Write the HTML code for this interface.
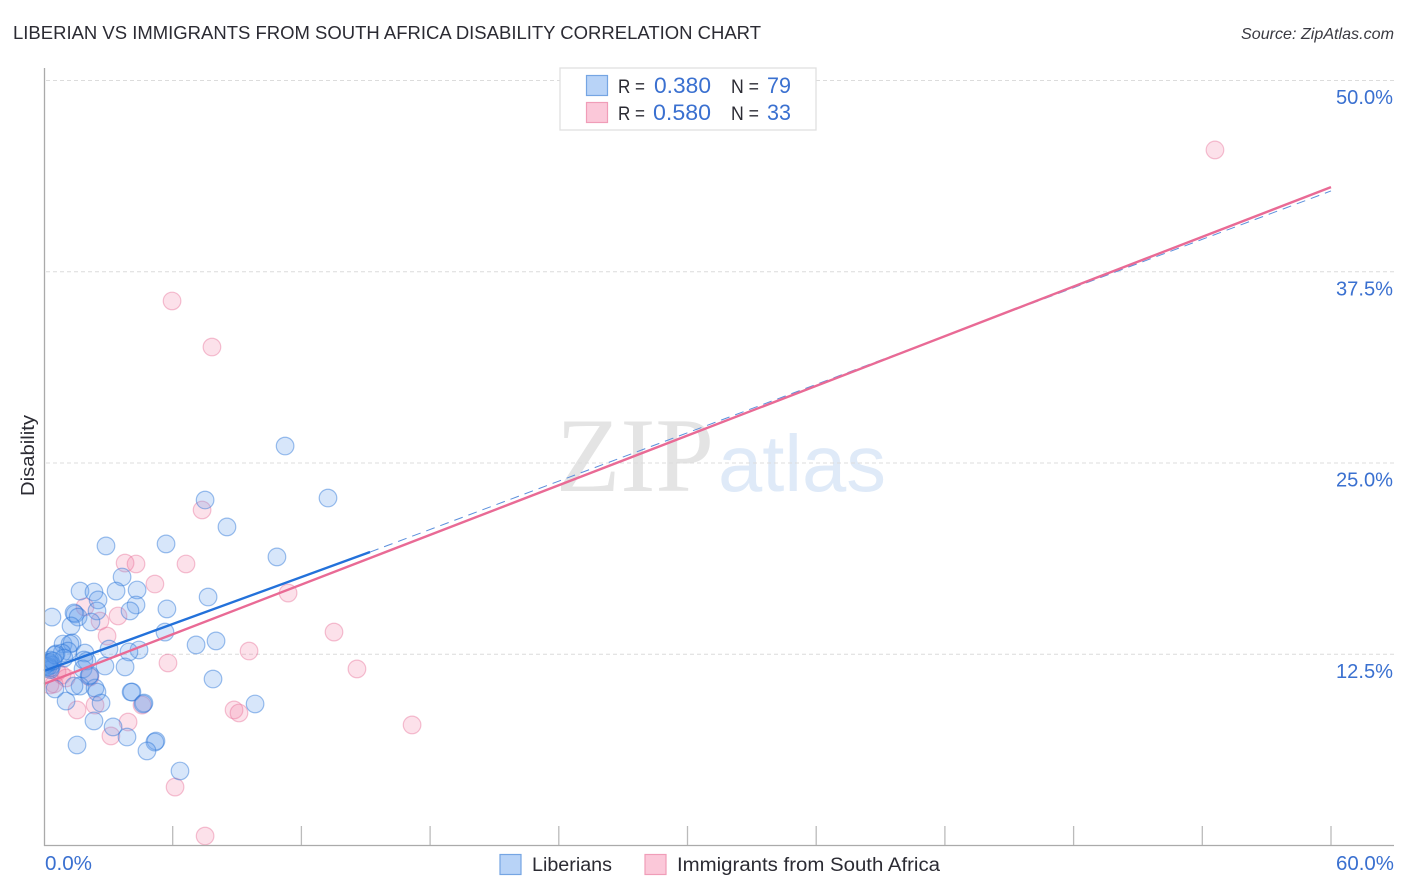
<!DOCTYPE html>
<html>
<head>
<meta charset="utf-8">
<title>Liberian vs Immigrants from South Africa Disability Correlation Chart</title>
<style>
html,body{margin:0;padding:0;background:#fff;width:1406px;height:892px;overflow:hidden}
svg{display:block;font-family:"Liberation Sans",sans-serif}
</style>
</head>
<body>
<svg id="chart" width="1406" height="892" viewBox="0 0 1406 892" xmlns="http://www.w3.org/2000/svg">
  <rect x="0" y="0" width="1406" height="892" fill="#fff"/>
  <text x="13" y="39" font-size="18.5" fill="#2b2b33" textLength="748" lengthAdjust="spacingAndGlyphs">LIBERIAN VS IMMIGRANTS FROM SOUTH AFRICA DISABILITY CORRELATION CHART</text>
  <text x="1241" y="39" font-size="16" font-style="italic" fill="#3a3a42" textLength="153" lengthAdjust="spacingAndGlyphs">Source: ZipAtlas.com</text>
  <g>
    <text x="556" y="491" font-family="'Liberation Serif',serif" font-size="106" fill="#e4e4e4" textLength="158" lengthAdjust="spacingAndGlyphs">ZIP</text>
    <text x="718" y="491" font-size="80" fill="#dfeaf8" textLength="168" lengthAdjust="spacingAndGlyphs">atlas</text>
  </g>
  <g id="grid"></g>
  <g id="xticks"></g>
  <defs>
    <clipPath id="plot-clip"><rect x="45" y="60" width="1350" height="785"/></clipPath>
  </defs>
  <g id="points" clip-path="url(#plot-clip)"></g>
  <g id="trends"></g>
  <line x1="44.5" y1="68" x2="44.5" y2="846" stroke="#aaa" stroke-width="1.3"/>
  <line x1="44" y1="845.5" x2="1394" y2="845.5" stroke="#aaa" stroke-width="1.3"/>
  <g id="ylabels"></g>
  <text x="45" y="870" font-size="20" fill="#3a70d0" textLength="47" lengthAdjust="spacingAndGlyphs">0.0%</text>
  <text x="1336" y="870" font-size="20" fill="#3a70d0" textLength="58" lengthAdjust="spacingAndGlyphs">60.0%</text>
  <text transform="translate(34,496) rotate(-90)" font-size="18.5" fill="#2b2b33" textLength="81" lengthAdjust="spacingAndGlyphs">Disability</text>

  <g>
    <rect x="560" y="68" width="256" height="62" fill="#fff" stroke="#e0e0e0" stroke-width="1.3"/>
    <rect x="586.5" y="75.5" width="21" height="20" fill="#b8d3f7" stroke="#75a5e3" stroke-width="1.2"/>
    <text x="618" y="93" font-size="19.5" fill="#2b2b33" textLength="27" lengthAdjust="spacingAndGlyphs">R =</text>
    <text x="654" y="93" font-size="22" fill="#3a70d0" textLength="57" lengthAdjust="spacingAndGlyphs">0.380</text>
    <text x="731" y="93" font-size="19.5" fill="#2b2b33" textLength="28" lengthAdjust="spacingAndGlyphs">N =</text>
    <text x="767" y="93" font-size="22" fill="#3a70d0" textLength="24" lengthAdjust="spacingAndGlyphs">79</text>
    <rect x="586.5" y="102.5" width="21" height="20" fill="#fbc8d9" stroke="#f09db8" stroke-width="1.2"/>
    <text x="618" y="120" font-size="19.5" fill="#2b2b33" textLength="27" lengthAdjust="spacingAndGlyphs">R =</text>
    <text x="653" y="120" font-size="22" fill="#3a70d0" textLength="58" lengthAdjust="spacingAndGlyphs">0.580</text>
    <text x="731" y="120" font-size="19.5" fill="#2b2b33" textLength="28" lengthAdjust="spacingAndGlyphs">N =</text>
    <text x="767" y="120" font-size="22" fill="#3a70d0" textLength="24" lengthAdjust="spacingAndGlyphs">33</text>
  </g>

  <g>
    <rect x="500" y="854.5" width="21" height="20" fill="#b8d3f7" stroke="#75a5e3" stroke-width="1.2"/>
    <text x="532" y="871" font-size="19" fill="#2b2b33" textLength="80" lengthAdjust="spacingAndGlyphs">Liberians</text>
    <rect x="645" y="854.5" width="21" height="20" fill="#fbc8d9" stroke="#f09db8" stroke-width="1.2"/>
    <text x="677" y="871" font-size="19" fill="#2b2b33" textLength="263" lengthAdjust="spacingAndGlyphs">Immigrants from South Africa</text>
  </g>
</svg>
<script>
const liberiansX = [0.37,2.89,5.69,7.51,8.53,11.24,13.24,10.86,3.64,1.68,2.33,3.36,4.34,2.52,4.29,5.73,7.65,1.45,1.40,1.59,2.47,4.01,2.19,1.26,5.64,0.89,1.31,1.21,3.03,4.43,3.96,7.09,8.02,1.91,1.12,0.84,0.56,0.93,0.28,0.19,0.37,2.00,2.84,3.78,1.82,2.10,7.88,0.51,1.68,2.38,2.47,4.06,4.10,4.66,4.62,9.84,1.03,2.66,2.33,3.22,1.54,3.87,5.22,5.17,4.80,6.34,0.05,0.09,0.14,0.02,0.28,0.20,0.30,1.40,0.51,0.23,0.42,1.86,2.14];
const liberiansY = [14.93,19.58,19.71,22.58,20.82,26.11,22.71,18.86,17.55,16.63,16.57,16.63,16.70,16.05,15.72,15.46,16.24,15.13,15.20,14.93,15.33,15.33,14.61,14.35,13.95,13.17,13.24,13.17,12.84,12.78,12.65,13.11,13.37,12.58,12.71,12.58,12.52,12.25,12.12,11.93,11.80,12.06,11.73,11.67,11.54,11.08,10.88,10.23,10.42,10.29,10.03,10.03,10.03,9.31,9.25,9.25,9.44,9.31,8.14,7.75,6.57,7.09,6.83,6.76,6.18,4.87,11.80,11.67,11.86,11.73,11.60,11.70,11.50,10.42,12.45,11.99,12.06,12.12,11.14];
const immigrantsX = [54.59,5.97,7.83,7.37,3.78,4.29,6.62,5.17,11.38,1.91,2.61,3.45,2.94,13.52,9.56,5.78,14.59,0.84,2.14,0.61,0.47,0.28,1.54,2.38,4.57,8.86,9.09,17.16,3.92,3.12,6.11,7.51,1.03];
const immigrantsY = [45.46,35.59,32.58,21.93,18.46,18.40,18.40,17.09,16.50,15.59,14.67,15.00,13.69,13.95,12.71,11.93,11.54,11.14,11.01,11.34,10.56,10.49,8.86,9.18,9.18,8.86,8.66,7.88,8.07,7.16,3.82,0.62,10.95];
const liberiansTrendX = [0,15.2];
const liberiansTrendY = [11.41,19.18];
const liberiansDashX = [15.2,60];
const liberiansDashY = [19.18,42.78];
const immigrantsTrendX = [0,60];
const immigrantsTrendY = [10.56,43.03];
const yTickValues = [12.5,25,37.5,50];
const yTickLabels = ["12.5%","25.0%","37.5%","50.0%"];
const xTickValues = [6,12,18,24,30,36,42,48,54,60];

const NS = "http://www.w3.org/2000/svg";
function xScale(v){ return 44 + v * 21.45; }
function yScale(v){ return 845.5 - v * 15.3; }
function make(tag, attrs, parent){
  const el = document.createElementNS(NS, tag);
  for (const k in attrs) el.setAttribute(k, attrs[k]);
  parent.appendChild(el);
  return el;
}
const gridG = document.getElementById("grid");
const xticksG = document.getElementById("xticks");
const ylabelsG = document.getElementById("ylabels");
const pointsG = document.getElementById("points");
const trendsG = document.getElementById("trends");

yTickValues.forEach(function(v, i){
  const g = make("line", {x1:46, x2:1394, y1:yScale(v), y2:yScale(v), stroke:"#dcdcdc", "stroke-width":1, "stroke-dasharray":"4 3"}, gridG);
  
  
  const t = make("text", {x:1393, y:yScale(v) + 23.5, "font-size":20, fill:"#3a70d0", "text-anchor":"end", textLength:v >= 10 ? 57 : 47, lengthAdjust:"spacingAndGlyphs"}, ylabelsG);
  t.textContent = yTickLabels[i];
  
  
});

xTickValues.forEach(function(v){
  const l = make("line", {x1:xScale(v), x2:xScale(v), y1:826, y2:845, stroke:"#bbb", "stroke-width":1.3}, xticksG);
  
  
});

immigrantsX.forEach(function(v, i){
  const c = make("circle", {cx:xScale(v), cy:yScale(immigrantsY[i]), r:8.8, fill:"rgb(240,120,160)", "fill-opacity":0.22, stroke:"rgb(232,110,150)", "stroke-opacity":0.42, "stroke-width":1.2}, pointsG);
  
  
});

liberiansX.forEach(function(v, i){
  const c = make("circle", {cx:xScale(v), cy:yScale(liberiansY[i]), r:8.8, fill:"rgb(100,160,235)", "fill-opacity":0.26, stroke:"rgb(40,115,215)", "stroke-opacity":0.45, "stroke-width":1.2}, pointsG);
  
  
});

const dash = make("line", {x1:xScale(liberiansDashX[0]), y1:yScale(liberiansDashY[0]), x2:xScale(liberiansDashX[1]), y2:yScale(liberiansDashY[1]), stroke:"#5b8fdc", "stroke-width":1, "stroke-dasharray":"9 6"}, trendsG);



const solidBlue = make("line", {x1:xScale(liberiansTrendX[0]), y1:yScale(liberiansTrendY[0]), x2:xScale(liberiansTrendX[1]), y2:yScale(liberiansTrendY[1]), stroke:"#2371da", "stroke-width":2.4}, trendsG);



const solidPink = make("line", {x1:xScale(immigrantsTrendX[0]), y1:yScale(immigrantsTrendY[0]), x2:xScale(immigrantsTrendX[1]), y2:yScale(immigrantsTrendY[1]), stroke:"#e96a95", "stroke-width":2.4}, trendsG);


</script>
</body>
</html>
